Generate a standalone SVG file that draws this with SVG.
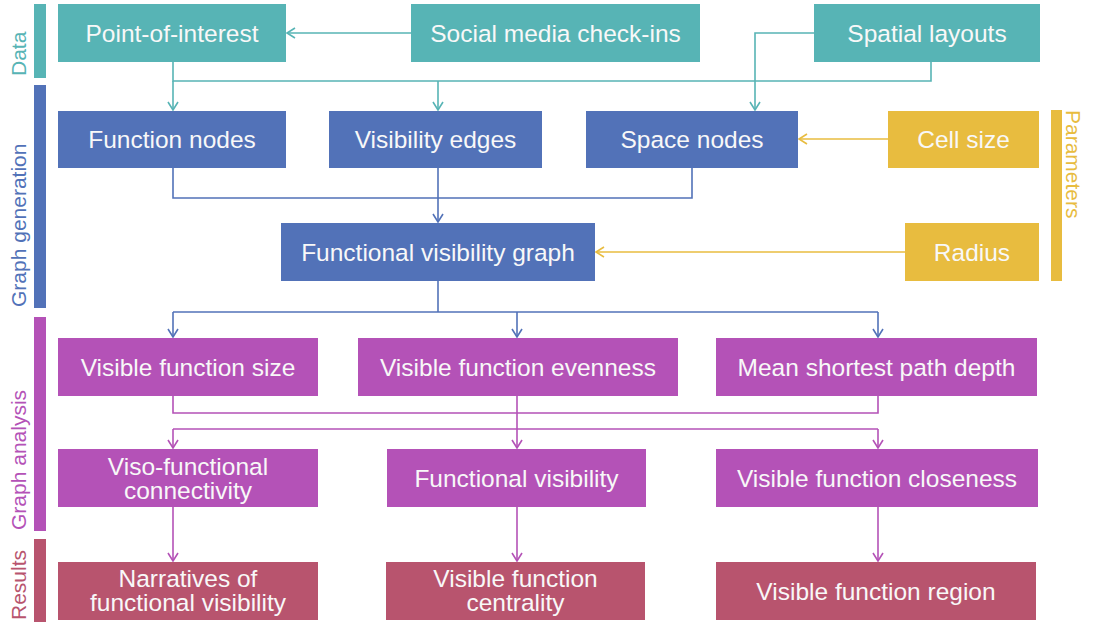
<svg xmlns="http://www.w3.org/2000/svg" width="1093" height="626" viewBox="0 0 1093 626">
<style>
.t{font-family:"Liberation Sans",Arial,sans-serif;font-size:24.5px;fill:#f8f8f8;text-anchor:middle}
.s{font-family:"Liberation Sans",Arial,sans-serif;font-size:21px}
.teal{fill:#57b4b5}.blue{fill:#5272b8}.yel{fill:#e8bc3f}.pur{fill:#b452b7}.res{fill:#b8546e}
.c{fill:none;stroke-width:1.6}
.ct{stroke:#57b4b5}.cb{stroke:#5272b8}.cy{stroke:#e8bc3f}.cp{stroke:#b452b7}
</style>
<defs>
<marker id="at" markerWidth="12" markerHeight="12" refX="10" refY="6" orient="auto" markerUnits="userSpaceOnUse"><path d="M2,1 L10,6 L2,11" fill="none" stroke="#57b4b5" stroke-width="1.6"/></marker>
<marker id="ab" markerWidth="12" markerHeight="12" refX="10" refY="6" orient="auto" markerUnits="userSpaceOnUse"><path d="M2,1 L10,6 L2,11" fill="none" stroke="#5272b8" stroke-width="1.6"/></marker>
<marker id="ay" markerWidth="12" markerHeight="12" refX="10" refY="6" orient="auto" markerUnits="userSpaceOnUse"><path d="M2,1 L10,6 L2,11" fill="none" stroke="#e8bc3f" stroke-width="1.6"/></marker>
<marker id="ap" markerWidth="12" markerHeight="12" refX="10" refY="6" orient="auto" markerUnits="userSpaceOnUse"><path d="M2,1 L10,6 L2,11" fill="none" stroke="#b452b7" stroke-width="1.6"/></marker>
</defs>
<rect width="1093" height="626" fill="#ffffff"/>
<g id="stage-labels">
<rect class="teal" x="34" y="4" width="12" height="74"/>
<text class="s" fill="#57b4b5" transform="translate(25.5,76) rotate(-90)">Data</text>
<rect class="blue" x="34" y="85" width="12" height="223"/>
<text class="s" fill="#5272b8" transform="translate(25.5,307) rotate(-90)">Graph generation</text>
<rect class="pur" x="34" y="317" width="12" height="214"/>
<text class="s" fill="#b452b7" transform="translate(25.5,530) rotate(-90)">Graph analysis</text>
<rect class="res" x="34" y="539" width="12" height="83"/>
<text class="s" fill="#b8546e" transform="translate(25.5,620) rotate(-90)">Results</text>
<rect class="yel" x="1051" y="110" width="11" height="171"/>
<text class="s" fill="#e8bc3f" transform="translate(1066,110) rotate(90)">Parameters</text>
</g>
<g id="connectors">
<path class="c ct" d="M411,33 H287" marker-end="url(#at)"/>
<path class="c ct" d="M173,62 V81 H931 V62"/>
<path class="c ct" d="M173,81 V110" marker-end="url(#at)"/>
<path class="c ct" d="M438,81 V110" marker-end="url(#at)"/>
<path class="c ct" d="M814,33 H755 V110" marker-end="url(#at)"/>
<path class="c cb" d="M173,168 V198 H692 V168"/>
<path class="c cb" d="M438,168 V222" marker-end="url(#ab)"/>
<path class="c cb" d="M438,281 V312"/>
<path class="c cb" d="M173,312 H878"/>
<path class="c cb" d="M173,312 V337" marker-end="url(#ab)"/>
<path class="c cb" d="M517,312 V337" marker-end="url(#ab)"/>
<path class="c cb" d="M878,312 V337" marker-end="url(#ab)"/>
<path class="c cy" d="M888,139 H799" marker-end="url(#ay)"/>
<path class="c cy" d="M905,252 H596" marker-end="url(#ay)"/>
<path class="c cp" d="M173,396 V413 H878 V396"/>
<path class="c cp" d="M517,396 V448" marker-end="url(#ap)"/>
<path class="c cp" d="M173,429 H878"/>
<path class="c cp" d="M173,429 V448" marker-end="url(#ap)"/>
<path class="c cp" d="M878,429 V448" marker-end="url(#ap)"/>
<path class="c cp" d="M173,507 V561" marker-end="url(#ap)"/>
<path class="c cp" d="M517,507 V561" marker-end="url(#ap)"/>
<path class="c cp" d="M878,507 V561" marker-end="url(#ap)"/>
</g>
<g id="poi"><rect class="teal" x="58" y="4" width="228" height="58"/><text class="t" x="172" y="41.5">Point-of-interest</text></g>
<g id="social"><rect class="teal" x="411" y="4" width="289" height="58"/><text class="t" x="555.5" y="41.5">Social media check-ins</text></g>
<g id="spatial"><rect class="teal" x="814" y="4" width="226" height="58"/><text class="t" x="927" y="41.5">Spatial layouts</text></g>
<g id="function-nodes"><rect class="blue" x="58" y="111" width="228" height="57"/><text class="t" x="172" y="148">Function nodes</text></g>
<g id="visibility-edges"><rect class="blue" x="329" y="111" width="213" height="57"/><text class="t" x="435.5" y="148">Visibility edges</text></g>
<g id="space-nodes"><rect class="blue" x="586" y="111" width="212" height="57"/><text class="t" x="692" y="148">Space nodes</text></g>
<g id="cell-size"><rect class="yel" x="888" y="111" width="151" height="57"/><text class="t" x="963.5" y="148">Cell size</text></g>
<g id="fvg"><rect class="blue" x="281" y="223" width="314" height="58"/><text class="t" x="438" y="260.5">Functional visibility graph</text></g>
<g id="radius"><rect class="yel" x="905" y="223" width="134" height="58"/><text class="t" x="972" y="260.5">Radius</text></g>
<g id="vf-size"><rect class="pur" x="58" y="338" width="260" height="58"/><text class="t" x="188" y="375.5">Visible function size</text></g>
<g id="vf-evenness"><rect class="pur" x="358" y="338" width="320" height="58"/><text class="t" x="518" y="375.5">Visible function evenness</text></g>
<g id="mean-depth"><rect class="pur" x="716" y="338" width="321" height="58"/><text class="t" x="876.5" y="375.5">Mean shortest path depth</text></g>
<g id="viso-functional"><rect class="pur" x="58" y="449" width="260" height="58"/><text class="t" x="188" y="475">Viso-functional</text><text class="t" x="188" y="499">connectivity</text></g>
<g id="functional-visibility"><rect class="pur" x="387" y="449" width="259" height="58"/><text class="t" x="516.5" y="486.5">Functional visibility</text></g>
<g id="vf-closeness"><rect class="pur" x="716" y="449" width="322" height="58"/><text class="t" x="877" y="486.5">Visible function closeness</text></g>
<g id="narratives"><rect class="res" x="58" y="562" width="260" height="58"/><text class="t" x="188" y="587">Narratives of</text><text class="t" x="188" y="611">functional visibility</text></g>
<g id="centrality"><rect class="res" x="386" y="562" width="259" height="58"/><text class="t" x="515.5" y="587">Visible function</text><text class="t" x="515.5" y="611">centrality</text></g>
<g id="region"><rect class="res" x="716" y="562" width="320" height="58"/><text class="t" x="876" y="599.5">Visible function region</text></g>
</svg>
